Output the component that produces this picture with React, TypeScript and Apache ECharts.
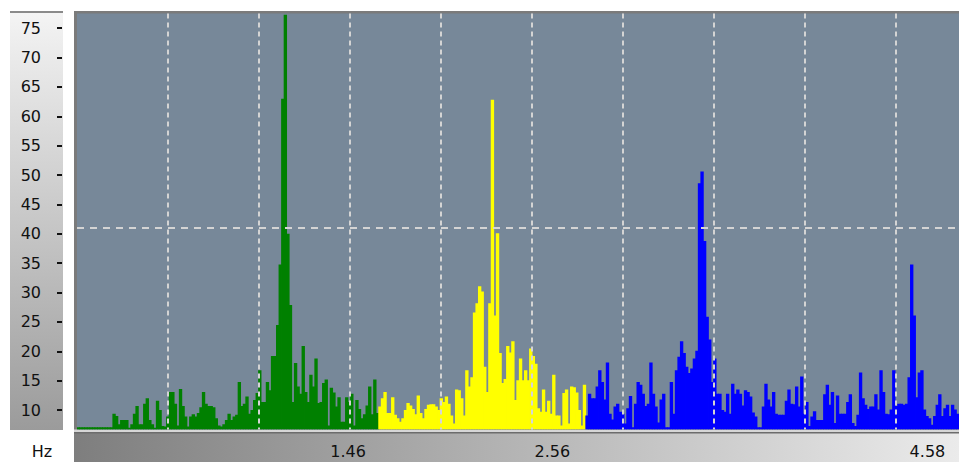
import React, { useEffect, useRef } from "react";
import * as echarts from "echarts";

// Spectrum amplitude per frequency bin, split into three coloured bands
const greenBand = [
  7.1, 7.1, 7.1, 7.1, 7.1, 7.1, 7.1, 7.1, 7.1, 7.1, 7.1, 7.1, 7.1, 7.1,
  9.4, 9.0, 7.6, 8.3, 8.3, 8.3, 7.0, 7.6, 9.4, 10.7,
  7.6, 7.6, 11.1, 12.0, 8.3, 7.6, 7.0, 11.6, 10.0, 7.3,
  7.2, 8.9, 13.1, 13.1, 11.1, 7.4, 13.6, 10.7, 8.9, 7.2,
  8.9, 9.3, 8.9, 9.5, 10.5, 13.1, 11.1, 10.7, 10.7, 10.5,
  8.6, 7.4, 7.2, 7.6, 8.3, 9.4, 8.3, 8.9, 9.2, 14.8,
  10.7, 11.1, 12.3, 9.4, 10, 11.7, 12.9, 16.8, 11.4, 11.4,
  14.8, 13.4, 19.2, 19.2, 24.5, 34.8, 63, 77.3, 40.0, 27.9,
  11.4, 18, 14, 12.8, 20.9, 13.1, 11.4, 16, 14, 18.8,
  11.2, 11.4, 14.6, 15.2, 7.4, 13.8, 13, 10.6, 12.2, 8,
  8, 12.2, 11.4, 12.8, 7.4, 11.7, 10.2, 8.6, 9.3, 10.8,
  14, 9.3, 15.2, 9.5,
];
const yellowBand = [
  10.6, 12, 13.1, 9.5, 9.5, 12.2, 9.2, 8.6, 8, 8.6,
  10, 11.2, 10.8, 10.2, 9.3, 12.5, 9.5, 8.6, 10.2,
  10.9, 11, 11, 10.6, 10, 12, 11.4, 12.3, 11.1, 9.1,
  7.7, 13.5, 13.4, 12, 9.1, 16.8, 14, 15.6, 26.6, 28.2,
  31.1, 30.2, 17.4, 13.1, 28.2, 62.8, 26.1, 40.1, 19.7, 14.6,
  15.3, 20.9, 19.8, 21.7, 11.7, 15.1, 18.8, 15.1, 16.8, 15.1,
  20.5, 19.2, 17.9, 10.3, 9.7, 13.5, 9.7, 11.6, 9.4, 16,
  9.1, 9.1, 7.4, 12.9, 13.5, 7.7, 14, 13.9, 13, 10,
  7.4, 14.3,
];
const blueBand = [
  9.1, 12.8, 12, 12, 14, 16.8,
  14.8, 11.8, 18.1, 9.4, 8.4, 10.6, 11.1, 9.7, 9.4, 7.7,
  10.3, 12.4, 7.1, 11.1, 14.8, 14.3, 12.8, 10.7, 11.1, 18.1,
  12.8, 10.6, 7.9, 11.8, 12.8, 7.1, 7.1, 14.8, 9.4, 16.8,
  19.1, 21.7, 19.7, 17.4, 16.3, 17.1, 18.8, 20.1, 48.6, 50.6,
  38.8, 25.9, 22, 14.8, 18.8, 12.8, 12.8, 10, 9.7, 12.8,
  9.4, 14.5, 12.8, 13.5, 12.8, 10.8, 13.4, 13.1, 12.3, 9.6,
  8.9, 7.1, 7.1, 10.6, 14.5, 11.8, 10.6, 13.1,
  9.4, 9.2, 9.2, 9.2, 11.6, 13.5, 11.1, 11, 14, 10.6,
  15.7, 9.4, 11.4, 7.3, 8.9, 9.8, 8.3, 8.3, 8.3, 12.7,
  14.3, 10.9, 13.1, 7.8, 12.5, 9.4, 9.4, 9.4, 11.4, 12.7,
  7.8, 7.3, 9.2, 16.4, 12, 10.9, 10.2, 10.6, 10.6, 12.7,
  10.1, 16.8, 13.1, 9.4, 9.3, 10.1, 16.8, 10.7, 11.1, 11.1,
  10.9, 11.1, 15.6, 34.8, 26.1, 12.2, 16.4, 16.8, 10.1, 9,
  8.6, 7.5, 9, 10.9, 12.7, 9, 10.3, 10.9, 9, 10.9,
  10.1, 9.4,
];

const yTickValues = [10, 15, 20, 25, 30, 35, 40, 45, 50, 55, 60, 65, 70, 75];
const xTickValues = [1.46, 2.56, 4.58];
const xAxisUnit = "Hz";
const thresholdLevel = 41;
const yMin = 6.7;
const yMax = 77.5;
const freqMax = 4.75;
const gridDivisions = 9.7;

const FONT = '"DejaVu Sans", Verdana, sans-serif';

export default function App() {
  const ref = useRef<HTMLDivElement>(null);

  useEffect(() => {
    if (!ref.current) return;
    const chart = echarts.init(ref.current, null, { renderer: "svg" });

    const nG = greenBand.length;
    const nY = yellowBand.length;
    const nB = blueBand.length;
    const total = nG + nY + nB;
    const bins = Array.from({ length: total }, (_, i) => String(i));

    const toPairs = (band: number[], start: number) =>
      band.map((v, i) => [start + i, v]);

    // filled spectrum columns, drawn through the axes' own scales
    const columnSeries = (name: string, data: number[][], color: string) => ({
      name,
      type: "custom",
      xAxisIndex: 1,
      yAxisIndex: 0,
      data,
      encode: { x: 0, y: 1 },
      silent: true,
      clip: true,
      z: 2,
      renderItem: (_params: any, api: any) => {
        const idx = api.value(0);
        const val = api.value(1);
        const top = api.coord([idx, val]);
        const base = api.coord([idx, yMin]);
        const w = api.size([1, 0])[0];
        return {
          type: "rect",
          shape: {
            x: top[0] - w / 2 - 0.4,
            y: top[1],
            width: w + 0.8,
            height: base[1] - top[1],
          },
          style: { fill: color },
        };
      },
    });

    const option: any = {
      animation: false,
      backgroundColor: "#ffffff",
      graphic: [
        {
          type: "rect",
          z: -10,
          shape: { x: 10, y: 11, width: 53, height: 419 },
          style: {
            fill: new echarts.graphic.LinearGradient(0, 0, 0, 1, [
              { offset: 0, color: "#f4f4f4" },
              { offset: 1, color: "#9b9b9b" },
            ]),
          },
        },
        {
          type: "rect",
          z: -9,
          shape: { x: 10, y: 11, width: 53, height: 2 },
          style: { fill: "#8a8a8a" },
        },
        {
          type: "rect",
          z: -10,
          shape: { x: 74, y: 11, width: 885, height: 419 },
          style: { fill: "#7b7b7b" },
        },
        {
          type: "rect",
          z: -9,
          shape: { x: 74, y: 429.5, width: 885, height: 3 },
          style: { fill: "#d6d6d6" },
        },
        {
          type: "rect",
          z: -9,
          shape: { x: 74, y: 432, width: 885, height: 30 },
          style: {
            fill: new echarts.graphic.LinearGradient(0, 0, 1, 0, [
              { offset: 0, color: "#7e7e7e" },
              { offset: 1, color: "#ebebeb" },
            ]),
          },
        },
        {
          type: "rect",
          z: -8,
          shape: { x: 74, y: 432, width: 885, height: 1.5 },
          style: { fill: "#6c6c6c" },
        },
        {
          type: "text",
          z: 10,
          x: 42,
          y: 451,
          style: {
            text: xAxisUnit,
            fill: "#111111",
            fontSize: 16,
            fontFamily: FONT,
            align: "center",
            verticalAlign: "middle",
            textAlign: "center",
            textVerticalAlign: "middle",
          },
        },
      ],
      grid: {
        left: 77,
        right: 0,
        top: 13.5,
        bottom: 34.5,
        show: true,
        backgroundColor: "#778899",
        borderWidth: 0,
      },
      xAxis: [
        {
          type: "value",
          position: "bottom",
          min: 0,
          max: freqMax,
          z: 10,
          axisLine: { show: false, onZero: false },
          axisTick: { show: false },
          splitLine: { show: false },
          axisLabel: {
            customValues: xTickValues,
            margin: 14,
            fontSize: 16,
            fontFamily: FONT,
            color: "#111111",
            formatter: (v: number) => v.toFixed(2),
          },
        },
        {
          type: "category",
          position: "top",
          data: bins,
          show: false,
          boundaryGap: true,
          axisLine: { onZero: false },
        },
        {
          type: "value",
          min: 0,
          max: gridDivisions,
          interval: 1,
          z: 4,
          axisLine: { show: false, onZero: false },
          axisTick: { show: false },
          axisLabel: { show: false },
          splitLine: {
            show: true,
            showMinLine: false,
            showMaxLine: false,
            lineStyle: { color: "#d4d4d4", width: 2, type: [5, 4] },
          },
        },
      ],
      yAxis: [
        {
          type: "value",
          position: "left",
          offset: 15,
          min: yMin,
          max: yMax,
          z: 10,
          axisLine: { show: false, onZero: false },
          axisTick: {
            show: true,
            customValues: yTickValues,
            length: 5,
            lineStyle: { color: "#111111", width: 2 },
          },
          axisLabel: {
            customValues: yTickValues,
            margin: 21,
            fontSize: 16,
            fontFamily: FONT,
            color: "#111111",
          },
          splitLine: { show: false },
        },
      ],
      series: [
        columnSeries("low", toPairs(greenBand, 0), "#008000"),
        columnSeries("mid", toPairs(yellowBand, nG), "#ffff00"),
        columnSeries("high", toPairs(blueBand, nG + nY), "#0000ff"),
        {
          name: "threshold",
          type: "line",
          xAxisIndex: 1,
          yAxisIndex: 0,
          data: [],
          silent: true,
          z: 5,
          markLine: {
            silent: true,
            symbol: "none",
            label: { show: false },
            lineStyle: { color: "#d4d4d4", width: 2, type: [7, 6] },
            data: [{ yAxis: thresholdLevel }],
          },
        },
      ],
    };

    chart.setOption(option);
    return () => chart.dispose();
  }, []);

  return (
    <div
      ref={ref}
      style={{
        position: "fixed",
        left: 0,
        top: 0,
        width: 959,
        height: 464,
        background: "#ffffff",
      }}
    />
  );
}
